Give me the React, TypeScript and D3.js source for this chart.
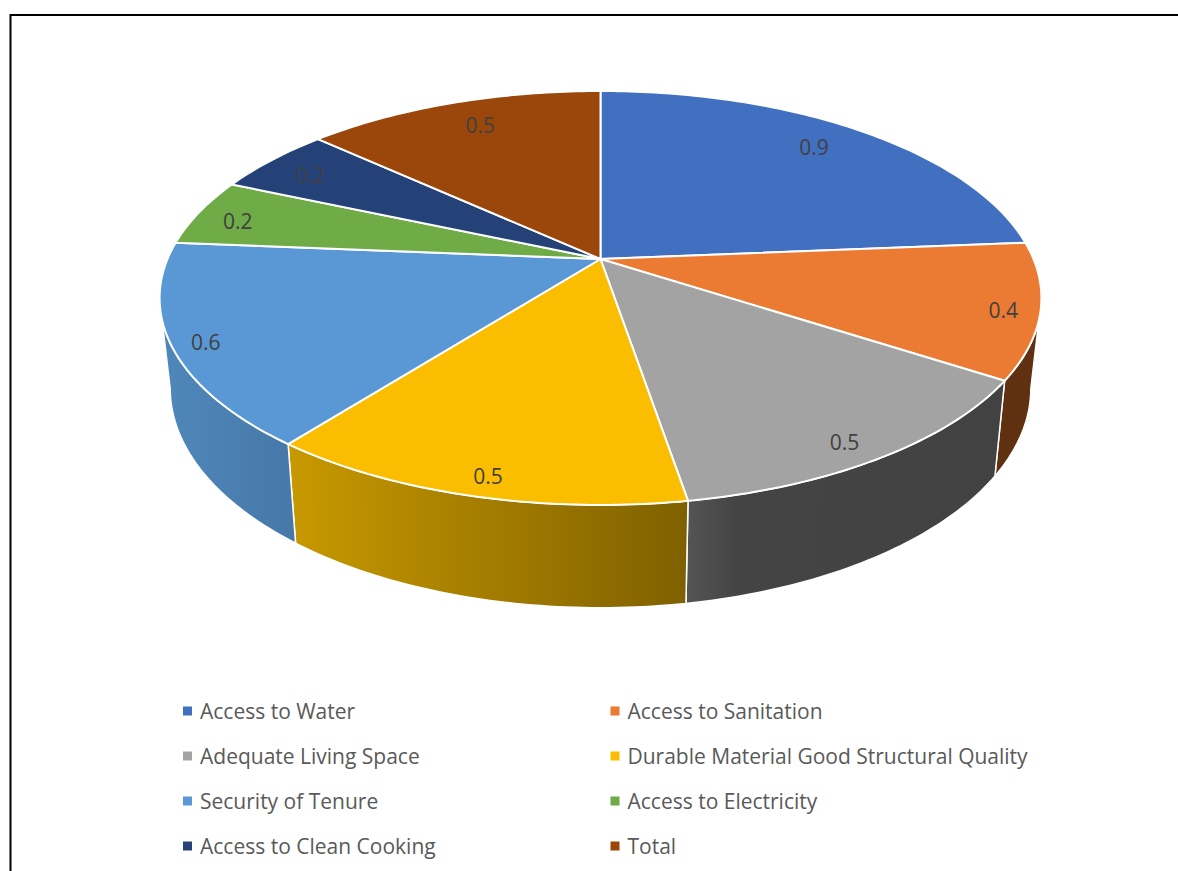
import React from "react";
import * as d3 from "d3";

const categories = [
  "Access to Water",
  "Access to Sanitation",
  "Adequate Living Space",
  "Durable Material Good Structural Quality",
  "Security of Tenure",
  "Access to Electricity",
  "Access to Clean Cooking",
  "Total",
];
const values = [0.9, 0.4, 0.5, 0.5, 0.6, 0.2, 0.2, 0.5];
const colors = ["#4270C0", "#EB7B32", "#A3A3A3", "#FBBD00", "#5A98D5", "#6FAB47", "#244278", "#9B470C"];

const W = 1178;
const H = 871;
const FONT = "'Open Sans', 'Noto Sans', sans-serif";

// perspective projection of the pie's top and bottom discs
const APEX_X = 600.5;
const APEX_Y = 259;
const PERSP = 0.1884;
const RX = 433;
const RY = 199.65;
const DEPTH = 88;
const BOTTOM_X = 0.976;
const BOTTOM_Y = 1.06;

type P = [number, number];
const top = (theta: number, r = 1): P => {
  const u = Math.sin(theta) * r;
  const v = -Math.cos(theta) * r;
  const d = 1 - PERSP * v;
  return [APEX_X + (RX * u) / d, APEX_Y + (RY * v) / d];
};
const bottom = (theta: number): P => {
  const [x, y] = top(theta);
  return [APEX_X + BOTTOM_X * (x - APEX_X), APEX_Y + DEPTH + BOTTOM_Y * (y - APEX_Y)];
};

const line = d3.line<P>().x((d) => d[0]).y((d) => d[1]).curve(d3.curveLinear);
const samples = (a: number, b: number) => {
  const n = Math.max(2, Math.ceil(Math.abs(b - a) * 60));
  return d3.range(n + 1).map((i) => a + ((b - a) * i) / n);
};

const arcs = d3.pie<number>().sort(null).value((d) => d)(values);

const labelRadii = [0.835, 0.92, 0.918, 0.929, 0.929, 0.891, 0.86, 0.831];
const labelTurn = [-1.3, 1.1, 1.6, -0.8, -0.8, -1.4, -1.1, 1.2];

// wall shading, by slice index
const wallStops: Record<number, [number, string][]> = {
  1: [[0, "#5f3111"], [1, "#5f3111"]],
  2: [[0, "#555555"], [0.16, "#444444"], [1, "#424242"]],
  3: [[0, "#c89900"], [1, "#7f6000"]],
  4: [[0, "#5088bb"], [1, "#4678a8"]],
};
const wallSlices = [1, 2, 3, 4];
const VISIBLE_FROM = (101 * Math.PI) / 180;
const VISIBLE_TO = (259 * Math.PI) / 180;

const legendCols = [183, 610.5];
const legendRows = [711, 756, 801, 846];

export default function App() {
  return (
    <svg width={W} height={H} style={{ position: "absolute", left: 0, top: 0, background: "#fff" }}>
      <defs>
        {wallSlices.map((i) => {
          const a = Math.max(arcs[i].startAngle, VISIBLE_FROM);
          const b = Math.min(arcs[i].endAngle, VISIBLE_TO);
          const xs = samples(a, b).flatMap((t) => [top(t)[0], bottom(t)[0]]);
          const stops = wallStops[i];
          return (
            <linearGradient
              key={i}
              id={`wall${i}`}
              gradientUnits="userSpaceOnUse"
              x1={d3.min(xs)}
              x2={d3.max(xs)}
              y1={0}
              y2={0}
            >
              {stops.map(([o, c]) => (
                <stop key={o} offset={o} stopColor={c} />
              ))}
            </linearGradient>
          );
        })}
      </defs>

      <path d={`M10.5,871V15H${W}`} fill="none" stroke="#000" strokeWidth={2} />

      {wallSlices.map((i) => {
        const a = Math.max(arcs[i].startAngle, VISIBLE_FROM);
        const b = Math.min(arcs[i].endAngle, VISIBLE_TO);
        const ts = samples(a, b);
        const pts: P[] = [...ts.map((t) => top(t)), ...ts.slice().reverse().map((t) => bottom(t))];
        return (
          <path
            key={i}
            d={(line(pts) ?? "") + "Z"}
            fill={`url(#wall${i})`}
            stroke="#fff"
            strokeWidth={1.5}
            strokeLinejoin="round"
          />
        );
      })}

      {arcs.map((arc, i) => {
        const pts: P[] = [[APEX_X, APEX_Y], ...samples(arc.startAngle, arc.endAngle).map((t) => top(t))];
        return (
          <path
            key={categories[i]}
            d={(line(pts) ?? "") + "Z"}
            fill={colors[i]}
            stroke="#fff"
            strokeWidth={2}
            strokeLinejoin="round"
          />
        );
      })}

      {arcs.map((arc, i) => {
        const mid = (arc.startAngle + arc.endAngle) / 2 + (labelTurn[i] * Math.PI) / 180;
        const [x, y] = top(mid, labelRadii[i]);
        return (
          <text
            key={categories[i]}
            x={x}
            y={y}
            textAnchor="middle"
            dominantBaseline="central"
            fontFamily={FONT}
            fontSize={21}
            fill="#404040"
          >
            {d3.format(".1f")(values[i])}
          </text>
        );
      })}

      {categories.map((c, i) => {
        const x = legendCols[i % 2];
        const y = legendRows[Math.floor(i / 2)];
        return (
          <g key={c}>
            <rect x={x} y={y - 4.5} width={9} height={9} fill={colors[i]} />
            <text
              x={x + 17}
              y={y}
              dominantBaseline="central"
              fontFamily={FONT}
              fontSize={21}
              fill="#595959"
            >
              {c}
            </text>
          </g>
        );
      })}
    </svg>
  );
}
